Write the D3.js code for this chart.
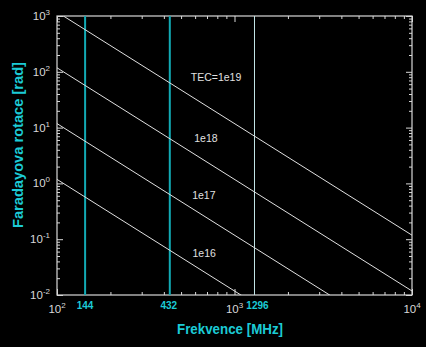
<!DOCTYPE html>
<html>
<head>
<meta charset="utf-8">
<script src="https://cdn.jsdelivr.net/npm/d3@7"></script>
<style>
  html, body { margin: 0; padding: 0; background: #000; }
  svg { display: block; }
</style>
</head>
<body>
<script>
// Faraday rotation vs. frequency for several TEC values (log-log)
const freqs   = [100, 10000];          // MHz, end points of each line
const rot1e19 = [1180, 0.118];         // rad
const rot1e18 = [118, 0.0118];
const rot1e17 = [11.8, 0.00118];
const rot1e16 = [1.18, 0.000118];
const tecNames  = ["TEC=1e19", "1e18", "1e17", "1e16"];
const labelFreq = [787, 690, 672, 675];   // where each TEC label sits
const labelRot  = [80, 6.5, 0.62, 0.057];

// Amateur bands marked with vertical lines
const markerFreqs  = [144, 432, 1296];
const markerLabels = ["144", "432", "1296"];
const markerDx     = [0, -1, 3];          // nudge so labels clear the 10^3 label

const xDecades = [2, 3, 4];
const yDecades = [-2, -1, 0, 1, 2, 3];
const xTitle = "Frekvence [MHz]";
const yTitle = "Faradayova rotace [rad]";

const W = 426, H = 347;
const margin = { left: 57, top: 16, right: 14, bottom: 52 };
const iw = W - margin.left - margin.right;
const ih = H - margin.top - margin.bottom;

const font = "Liberation Sans, Arial, sans-serif";
const axisColor = "#d8d8d8";
const lineColor = "#e0e0e0";
const cyanText = "#1ccbd6";
const cyanLine = "#12aab4";

const svg = d3.select("body").append("svg")
  .attr("width", W).attr("height", H)
  .style("background", "#000");

const x = d3.scaleLog().domain([1e2, 1e4]).range([0, iw]);
const y = d3.scaleLog().domain([1e-2, 1e3]).range([ih, 0]);

const g = svg.append("g").attr("transform", `translate(${margin.left},${margin.top})`);

g.append("clipPath").attr("id", "plotClip")
  .append("rect").attr("width", iw).attr("height", ih);

// minor / major tick values
const minorOf = (decs) => {
  const v = [];
  for (let i = 0; i < decs.length - 1; i++)
    for (let m = 2; m <= 9; m++) v.push(m * Math.pow(10, decs[i]));
  return v;
};
const xMajor = xDecades.map(d => Math.pow(10, d));
const yMajor = yDecades.map(d => Math.pow(10, d));
const xMinor = minorOf(xDecades);
const yMinor = minorOf(yDecades);

function styleAxis(sel) {
  sel.select(".domain").remove();
  sel.selectAll(".tick line").attr("stroke", axisColor).attr("stroke-width", 1);
  sel.selectAll(".tick text").remove();
}

// ticks pointing inward on all four sides
const axes = [
  [d3.axisBottom(x), `translate(0,${ih})`, xMinor, xMajor],
  [d3.axisTop(x), `translate(0,0)`, xMinor, xMajor],
  [d3.axisLeft(y), `translate(0,0)`, yMinor, yMajor],
  [d3.axisRight(y), `translate(${iw},0)`, yMinor, yMajor]
];
axes.forEach(([ax, tr, mn, mj]) => {
  g.append("g").attr("transform", tr)
    .call(ax.tickValues(mn).tickSize(-3).tickFormat(""))
    .call(styleAxis);
  g.append("g").attr("transform", tr)
    .call(ax.tickValues(mj).tickSize(-6).tickFormat(""))
    .call(styleAxis);
});

// frame
g.append("rect").attr("width", iw).attr("height", ih)
  .attr("fill", "none").attr("stroke", axisColor).attr("stroke-width", 1.2);

// vertical band markers
markerFreqs.forEach((f, i) => {
  g.append("line")
    .attr("x1", x(f)).attr("x2", x(f))
    .attr("y1", 0).attr("y2", ih)
    .attr("stroke", i < 2 ? cyanLine : "#c4e6e8")
    .attr("stroke-width", i < 2 ? 2 : 1);
  g.append("text")
    .attr("x", x(f) + markerDx[i]).attr("y", ih + 14)
    .attr("text-anchor", "middle")
    .attr("font-family", font)
    .attr("font-weight", "bold").attr("font-size", 10)
    .attr("fill", cyanText)
    .text(markerLabels[i]);
});

// rotation lines
const series = [rot1e19, rot1e18, rot1e17, rot1e16];
const line = d3.line().x(d => x(d[0])).y(d => y(d[1]));
const plot = g.append("g").attr("clip-path", "url(#plotClip)");
series.forEach(vals => {
  plot.append("path")
    .datum(freqs.map((f, i) => [f, vals[i]]))
    .attr("d", line)
    .attr("fill", "none")
    .attr("stroke", lineColor).attr("stroke-width", 1);
});

// TEC labels
tecNames.forEach((t, i) => {
  g.append("text")
    .attr("x", x(labelFreq[i])).attr("y", y(labelRot[i]) + 4)
    .attr("text-anchor", "middle")
    .attr("font-family", font)
    .attr("font-size", 10.5)
    .attr("fill", lineColor)
    .text(t);
});

// power-of-ten tick labels
function powLabel(sel, exp) {
  sel.append("tspan").text("10");
  sel.append("tspan").attr("dy", -5).attr("font-size", 8).text(exp);
}
xDecades.forEach(d => {
  g.append("text")
    .attr("x", x(Math.pow(10, d))).attr("y", ih + 18)
    .attr("text-anchor", "middle")
    .attr("font-family", font)
    .attr("font-size", 11.5).attr("fill", axisColor)
    .call(powLabel, d);
});
yDecades.forEach(d => {
  g.append("text")
    .attr("x", -7).attr("y", y(Math.pow(10, d)) + 4)
    .attr("text-anchor", "end")
    .attr("font-family", font)
    .attr("font-size", 11.5).attr("fill", axisColor)
    .call(powLabel, d);
});

// axis titles
svg.append("text")
  .attr("x", 230).attr("y", 334)
  .attr("text-anchor", "middle")
  .attr("font-family", font)
  .attr("font-weight", "bold").attr("font-size", 15)
  .attr("textLength", 106).attr("lengthAdjust", "spacingAndGlyphs")
  .attr("fill", cyanText)
  .text(xTitle);

svg.append("text")
  .attr("transform", "translate(23,145) rotate(-90)")
  .attr("text-anchor", "middle")
  .attr("font-family", font)
  .attr("font-weight", "bold").attr("font-size", 15)
  .attr("textLength", 166).attr("lengthAdjust", "spacingAndGlyphs")
  .attr("fill", cyanText)
  .text(yTitle);
</script>
</body>
</html>
